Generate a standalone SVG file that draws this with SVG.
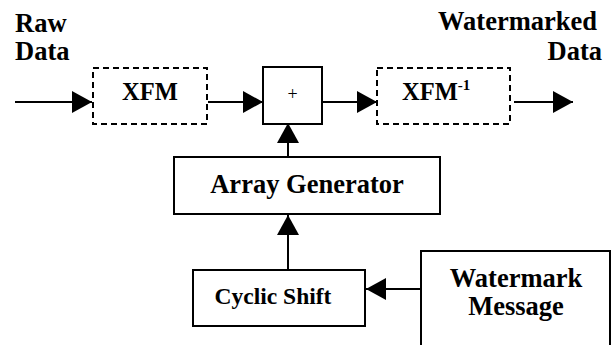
<svg xmlns="http://www.w3.org/2000/svg" width="616" height="345" viewBox="0 0 616 345">
<defs>
<marker id="ah" viewBox="0 0 20 22" refX="20" refY="11" markerWidth="20" markerHeight="22" markerUnits="userSpaceOnUse" orient="auto">
<path d="M0,0 L20,11 L0,22 Z" fill="#000"/>
</marker>
<style>
.box{fill:#fff;stroke:#000;stroke-width:2}
.dash{fill:#fff;stroke:#000;stroke-width:2;stroke-dasharray:6,4}
.t{font-family:"Liberation Serif","Times New Roman",serif;font-weight:bold;font-size:26.5px;fill:#000}
.s{font-size:24.5px}
.cs{font-size:23.5px}
.sup{font-size:15px}
.c{stroke:#000;stroke-width:2;fill:none}
</style>
</defs>
<rect width="616" height="345" fill="#fff"/>
<text class="t" x="15" y="32">Raw</text>
<text class="t" x="15" y="60">Data</text>
<text class="t" x="597" y="30" text-anchor="end">Watermarked</text>
<text class="t" x="602" y="60" text-anchor="end">Data</text>
<g id="connectors">
<line class="c" x1="15" y1="102" x2="92" y2="102" marker-end="url(#ah)"/>
<line class="c" x1="208" y1="102" x2="263" y2="102" marker-end="url(#ah)"/>
<line class="c" x1="322" y1="102" x2="377" y2="102" marker-end="url(#ah)"/>
<line class="c" x1="514" y1="102" x2="573" y2="102" marker-end="url(#ah)"/>
<line class="c" x1="288" y1="157" x2="288" y2="123" marker-end="url(#ah)"/>
<line class="c" x1="288" y1="270" x2="288" y2="215" marker-end="url(#ah)"/>
<line class="c" x1="421" y1="289" x2="366" y2="289" marker-end="url(#ah)"/>
</g>
<g id="xfm">
<rect class="dash" x="93" y="68" width="114" height="56"/>
<text class="t s" x="150" y="100" text-anchor="middle">XFM</text>
</g>
<g id="plus">
<rect class="box" x="263" y="67" width="59" height="57"/>
<text x="292.5" y="100" text-anchor="middle" font-family="Liberation Serif, serif" font-size="18">+</text>
</g>
<g id="xfm-inv">
<rect class="dash" x="377" y="68" width="133" height="56"/>
<text class="t s" x="402" y="100">XFM<tspan class="sup" dy="-10">-1</tspan></text>
</g>
<g id="array-generator">
<rect class="box" x="174" y="157" width="266" height="57"/>
<text class="t" x="307" y="193" text-anchor="middle">Array Generator</text>
</g>
<g id="cyclic-shift">
<rect class="box" x="193" y="270" width="172" height="56"/>
<text class="t cs" x="273" y="304" text-anchor="middle">Cyclic Shift</text>
</g>
<g id="watermark-message">
<rect class="box" x="421" y="251" width="189" height="110"/>
<text class="t" x="516" y="287" text-anchor="middle">Watermark</text>
<text class="t" x="516" y="315" text-anchor="middle">Message</text>
</g>
</svg>
